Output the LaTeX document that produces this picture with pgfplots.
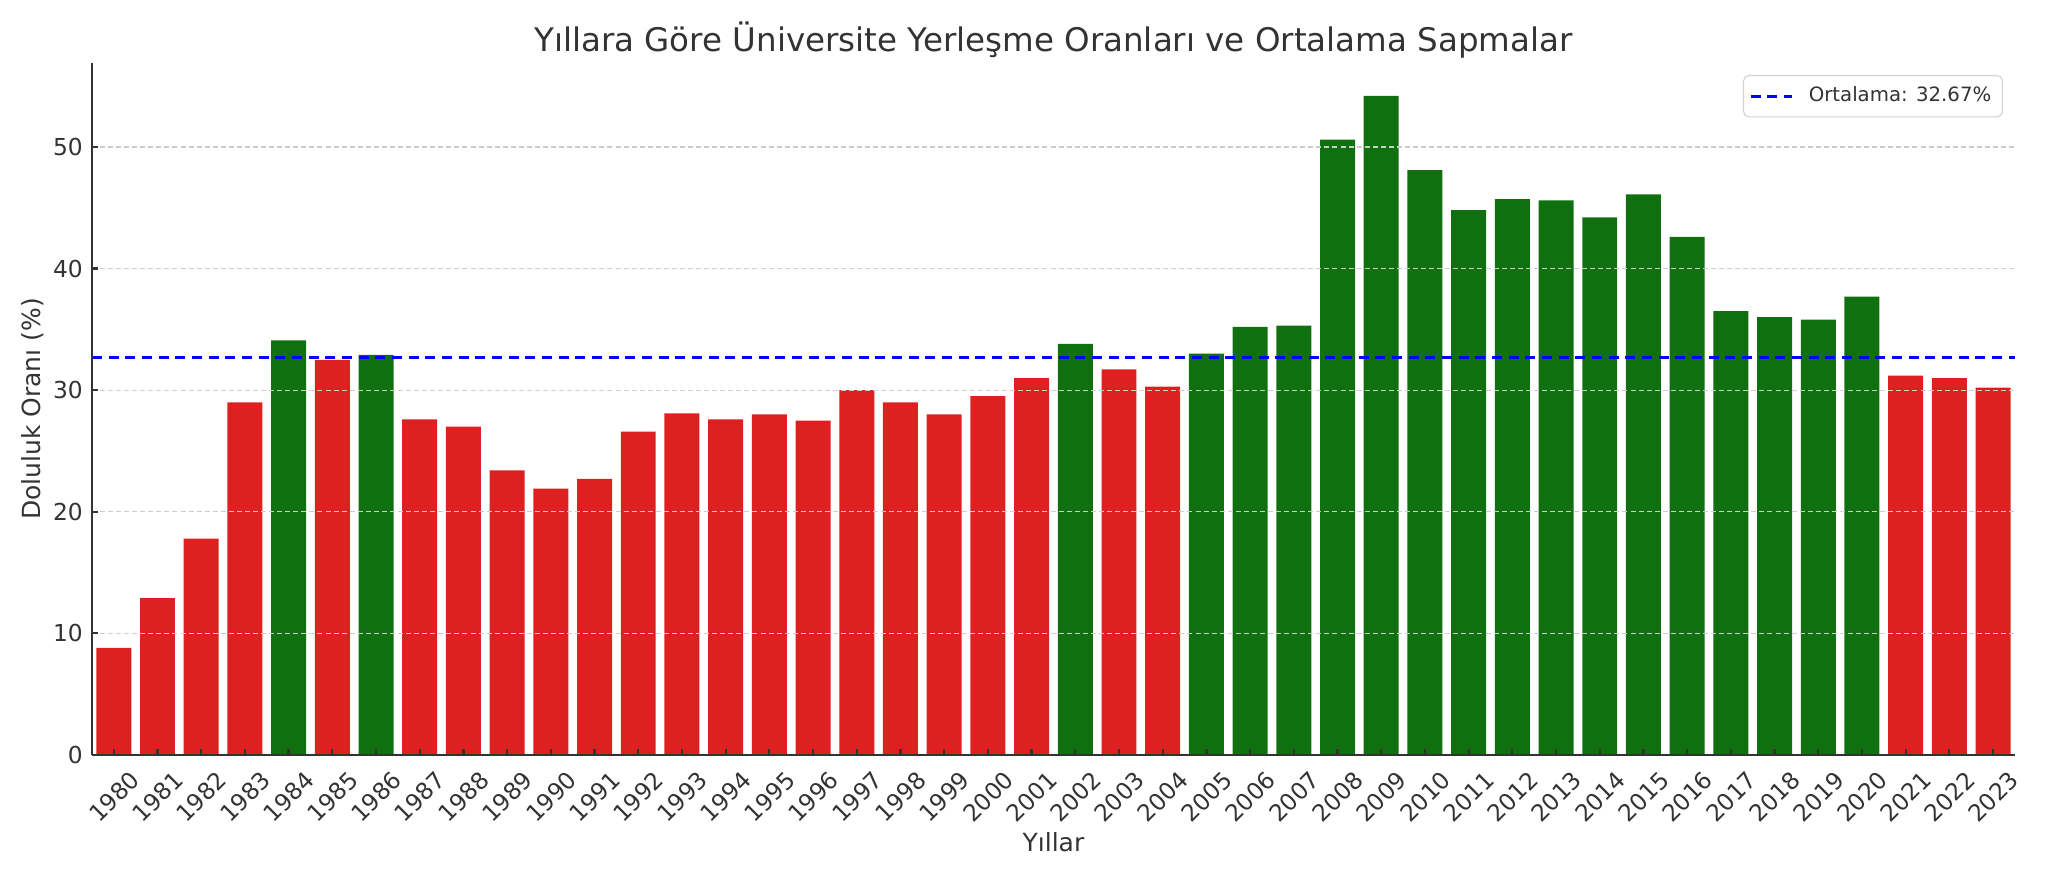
\documentclass[border=0pt]{standalone}
\usepackage{pgfplots}
\pgfplotsset{compat=1.18}
\usepackage{fontspec}
\setmainfont{DejaVu Sans}
\definecolor{barred}{HTML}{DF2020}
\definecolor{bargreen}{HTML}{107010}
\definecolor{txt}{HTML}{333333}
\begin{document}
\begin{tikzpicture}
\begin{axis}[
  scale only axis, width=692.3pt, height=249.1pt,
  xmin=-0.5, xmax=43.5, ymin=0, ymax=56.9,
  /pgf/number format/assume math mode=true,
  axis x line*=bottom, axis y line*=left,
  axis line style={-, line width=0.8pt, color=txt},
  xtick={0,1,2,3,4,5,6,7,8,9,10,11,12,13,14,15,16,17,18,19,20,21,22,23,24,25,26,27,28,29,30,31,32,33,34,35,36,37,38,39,40,41,42,43},
  xticklabels={1980,1981,1982,1983,1984,1985,1986,1987,1988,1989,1990,1991,1992,1993,1994,1995,1996,1997,1998,1999,2000,2001,2002,2003,2004,2005,2006,2007,2008,2009,2010,2011,2012,2013,2014,2015,2016,2017,2018,2019,2020,2021,2022,2023},
  ytick={0,10,20,30,40,50},
  yticklabels={0,10,20,30,40,50},
  tick align=inside, major tick length=2.2pt,
  tick style={color=txt, line width=0.8pt},
  ymajorgrids, grid style={color=black!20, line width=0.45pt, dash pattern=on 1.8pt off 1.1pt},
  axis on top,
  tick label style={font=\fontsize{8.4}{10}\selectfont, color=txt},
  xticklabel style={inner sep=0pt, xshift=5.4pt, yshift=-4.9pt, rotate=45, anchor=north east},
  yticklabel style={inner sep=0pt, xshift=-3.1pt, anchor=east},
  every axis title/.style={at={(axis description cs:0.5,1)}, anchor=base, yshift=4.1pt, font=\fontsize{11.7}{14}\selectfont, color=txt},
  title={Yıllara Göre Üniversite Yerleşme Oranları ve Ortalama Sapmalar},
  every axis x label/.style={at={(axis description cs:0.5,-0.1257)}, anchor=center, font=\fontsize{9}{11}\selectfont, color=txt},
  xlabel={Yıllar},
  every axis y label/.style={at={(axis description cs:-0.0307,0.5)}, rotate=90, anchor=center, font=\fontsize{9}{11}\selectfont, color=txt},
  ylabel={Doluluk Oranı (\%)},
  legend style={at={(axis description cs:1,1)}, anchor=north east, xshift=-4.3pt, yshift=-4.3pt, draw=black!18, rounded corners=2pt, font=\fontsize{7.1}{9}\selectfont, text=txt, inner sep=2pt, column sep=3.4pt},
  legend image code/.code={\draw[#1] (0pt,0pt) -- (15pt,0pt);},
]
\addplot[ybar, bar width=0.8, bar shift=0pt, fill=barred, draw=none, forget plot] coordinates {
(0,8.8)(1,12.9)(2,17.8)(3,29.0)(5,32.5)(7,27.6)(8,27.0)(9,23.4)(10,21.9)(11,22.7)(12,26.6)(13,28.1)(14,27.6)(15,28.0)(16,27.5)(17,30.0)(18,29.0)(19,28.0)(20,29.5)(21,31.0)(23,31.7)(24,30.3)(41,31.2)(42,31.0)(43,30.2)
};
\addplot[ybar, bar width=0.8, bar shift=0pt, fill=bargreen, draw=none, forget plot] coordinates {
(4,34.1)(6,32.9)(22,33.8)(25,33.0)(26,35.2)(27,35.3)(28,50.6)(29,54.2)(30,48.1)(31,44.8)(32,45.7)(33,45.6)(34,44.2)(35,46.1)(36,42.6)(37,36.5)(38,36.0)(39,35.8)(40,37.7)
};
\addplot[blue, line width=1.1pt, dash pattern=on 3.6pt off 2.4pt] coordinates {(-0.5,32.67) (43.5,32.67)};
\addlegendentry{Ortalama: 32.67\%}
\end{axis}
\pgfresetboundingbox
\useasboundingbox (-33.1pt,-44.3pt) rectangle (704.2pt,271.8pt);
\end{tikzpicture}
\end{document}
